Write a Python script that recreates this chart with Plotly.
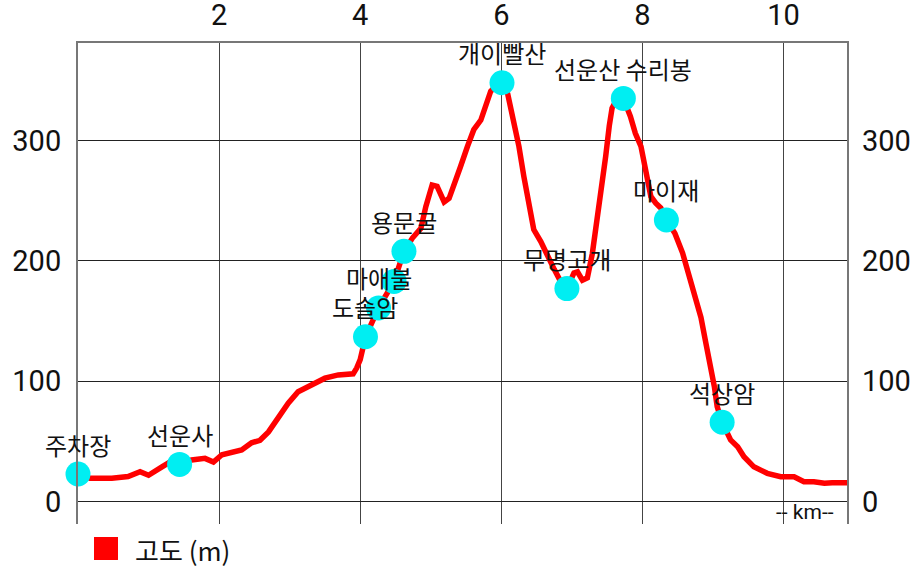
import plotly.graph_objects as go

# ---- data ----
distance_km = [0.0, 0.17, 0.48, 0.71, 0.88, 1.0, 1.19, 1.33, 1.44, 1.61, 1.80, 1.92, 2.04, 2.18,
               2.32, 2.46, 2.58, 2.70, 2.84, 2.98, 3.12, 3.31, 3.50, 3.69, 3.90, 3.95, 4.0, 4.075,
               4.26, 4.48, 4.62, 4.74, 4.86, 4.93, 5.02, 5.09, 5.19, 5.26, 5.33, 5.42, 5.52, 5.61,
               5.71, 5.78, 5.85, 5.92, 6.01, 6.09, 6.16, 6.25, 6.32, 6.39, 6.46, 6.56, 6.65, 6.75,
               6.84, 6.93, 7.03, 7.08, 7.15, 7.22, 7.29, 7.36, 7.43, 7.48, 7.53, 7.57, 7.62, 7.73,
               7.83, 7.90, 7.98, 8.02, 8.07, 8.12, 8.19, 8.26, 8.34, 8.46, 8.57, 8.66, 8.76, 8.83,
               8.90, 8.97, 9.02, 9.06, 9.13, 9.25, 9.35, 9.44, 9.58, 9.77, 9.96, 10.15, 10.29, 10.43,
               10.58, 10.69, 10.91]
elevation_m = [23, 19.5, 19.5, 21, 25, 22, 29, 34, 31, 34.7, 36, 33, 39, 41.6,
               43, 49, 51, 58, 70.6, 81.8, 91.4, 97, 102.6, 105.3, 106.2, 111, 118, 137,
               161, 183, 208, 219, 227, 245, 263, 262, 249, 252, 265, 278, 295, 309,
               317, 328, 341, 345, 348, 339, 320, 295, 270, 248, 226, 216, 204, 193,
               183, 177, 190, 191, 184, 186, 206, 234, 262, 287, 312, 327, 332.5, 335,
               320, 306, 295, 284, 270, 253.5, 248, 244, 234, 223, 206.5, 187, 167.7, 153,
               131.7, 112, 95.6, 79, 66, 51.3, 45.7, 37.4, 29, 23.6, 20.8, 20.8, 16.6, 16.6,
               15.3, 15.8, 15.8]

waypoint_names = ["주차장", "선운사", "도솔암", "마애불", "", "용문굴", "개이빨산",
                  "무명고개", "선운산 수리봉", "마이재", "석상암", ""]
waypoint_km = [0.0, 1.44, 4.075, 4.26, 4.48, 4.62, 6.01, 6.93, 7.73, 8.34, 9.13, 10.91]
waypoint_m = [23, 31, 137, 161, 183, 208, 348, 177, 335, 234, 66, 16]

x_ticks = [2, 4, 6, 8, 10]
y_ticks = [0, 100, 200, 300]
series_name = "고도 (m)"
x_unit_label = "-- km--"

FONT = "Roboto, 'Noto Sans CJK KR', sans-serif"
KFONT = "'Noto Sans CJK KR', Roboto, sans-serif"

fig = go.Figure()
fig.add_trace(go.Scatter(x=distance_km, y=elevation_m, mode="lines",
                         line=dict(color="#FF0000", width=5.5),
                         name=series_name, showlegend=False, hoverinfo="skip"))
fig.add_trace(go.Scatter(x=waypoint_km, y=waypoint_m, mode="markers",
                         marker=dict(color="#00EEF2", size=25, line=dict(width=0)),
                         showlegend=False, hoverinfo="skip", cliponaxis=False))
# invisible trace for the right-hand axis
fig.add_trace(go.Scatter(x=[distance_km[0]], y=[elevation_m[0]], yaxis="y2", mode="markers",
                         marker=dict(opacity=0), showlegend=False, hoverinfo="skip"))

for nm, xv, yv in zip(waypoint_names, waypoint_km, waypoint_m):
    if nm:
        fig.add_annotation(x=xv, y=yv, text=nm, showarrow=False, yshift=30,
                           xanchor="center", yanchor="middle",
                           font=dict(family=KFONT, size=24, color="#111"))

fig.add_annotation(x=10.74, y=-8.6, xref="x", yref="y", text=x_unit_label, showarrow=False,
                   xanchor="right", yanchor="middle", font=dict(family=FONT, size=21, color="#111"))

# legend drawn manually (square swatch + label)
fig.add_shape(type="rect", xref="paper", yref="paper", x0=0.0208, x1=0.052, y0=-0.0748, y1=-0.027,
              fillcolor="#FF0000", line=dict(width=0))
fig.add_annotation(xref="paper", yref="paper", x=0.0715, y=-0.052, text=series_name,
                   showarrow=False, xanchor="left", yanchor="middle",
                   font=dict(family=KFONT, size=26, color="#111"))

yrange = [-18.5, 381]
fig.update_layout(
    width=924, height=577,
    margin=dict(l=78, r=77, t=43, b=53),
    paper_bgcolor="white", plot_bgcolor="white",
    showlegend=False,
    xaxis=dict(range=[0, 10.9], side="top", tickvals=x_ticks, ticktext=[str(v) for v in x_ticks],
               showgrid=True, gridcolor="#444", gridwidth=1, zeroline=False,
               showline=True, linecolor="#777", linewidth=2, mirror=False,
               ticks="", ticklabelstandoff=4, automargin=False,
               tickfont=dict(family=FONT, size=29, color="#111")),
    yaxis=dict(range=yrange, tickvals=y_ticks, showgrid=True, gridcolor="#222", gridwidth=1,
               zeroline=False, showline=True, linecolor="#777", linewidth=2, mirror=True,
               ticks="", ticklabelstandoff=9, automargin=False,
               tickfont=dict(family=FONT, size=29, color="#111")),
    yaxis2=dict(range=yrange, overlaying="y", side="right", tickvals=y_ticks, showgrid=False,
                zeroline=False, showline=False, ticks="", ticklabelstandoff=14, automargin=False,
                tickfont=dict(family=FONT, size=29, color="#111")),
)

fig.write_html("out.html", config={"displayModeBar": False},
               post_script="document.body.style.margin='0';")
